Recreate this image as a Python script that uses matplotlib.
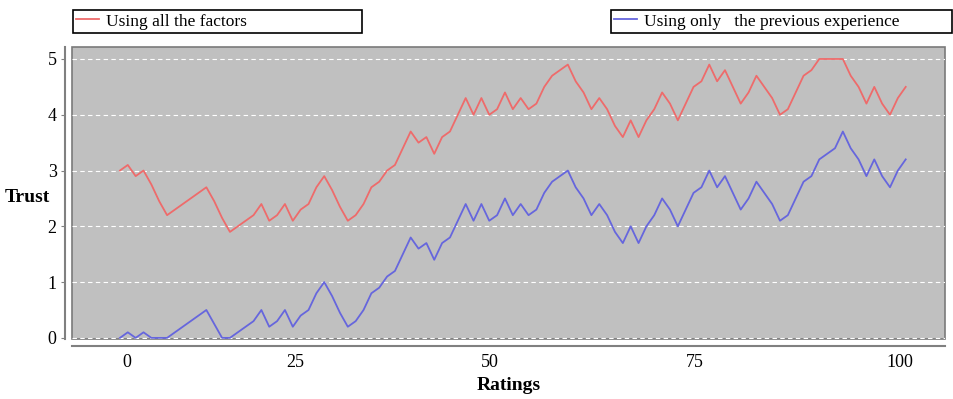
import matplotlib.pyplot as plt
from matplotlib.lines import Line2D
import numpy as np

plt.rcParams.update({'font.family': 'Liberation Serif', 'font.size': 12})

# ratings index 0..100
ratings = np.arange(101)

# trust using all the factors (red)
trust_all = [
    3.0, 3.1, 2.9, 3.0, 2.75, 2.45, 2.2, 2.3, 2.4, 2.5,
    2.6, 2.7, 2.45, 2.15, 1.9, 2.0, 2.1, 2.2, 2.4, 2.1,
    2.2, 2.4, 2.1, 2.3, 2.4, 2.7, 2.9, 2.65, 2.35, 2.1,
    2.2, 2.4, 2.7, 2.8, 3.0, 3.1, 3.4, 3.7, 3.5, 3.6,
    3.3, 3.6, 3.7, 4.0, 4.3, 4.0, 4.3, 4.0, 4.1, 4.4,
    4.1, 4.3, 4.1, 4.2, 4.5, 4.7, 4.8, 4.9, 4.6, 4.4,
    4.1, 4.3, 4.1, 3.8, 3.6, 3.9, 3.6, 3.9, 4.1, 4.4,
    4.2, 3.9, 4.2, 4.5, 4.6, 4.9, 4.6, 4.8, 4.5, 4.2,
    4.4, 4.7, 4.5, 4.3, 4.0, 4.1, 4.4, 4.7, 4.8, 5.0,
    5.0, 5.0, 5.0, 4.7, 4.5, 4.2, 4.5, 4.2, 4.0, 4.3,
    4.5,
]

# trust using only the previous experience (blue)
trust_prev = [
    0.0, 0.1, 0.0, 0.1, 0.0, 0.0, 0.0, 0.1, 0.2, 0.3,
    0.4, 0.5, 0.25, 0.0, 0.0, 0.1, 0.2, 0.3, 0.5, 0.2,
    0.3, 0.5, 0.2, 0.4, 0.5, 0.8, 1.0, 0.75, 0.45, 0.2,
    0.3, 0.5, 0.8, 0.9, 1.1, 1.2, 1.5, 1.8, 1.6, 1.7,
    1.4, 1.7, 1.8, 2.1, 2.4, 2.1, 2.4, 2.1, 2.2, 2.5,
    2.2, 2.4, 2.2, 2.3, 2.6, 2.8, 2.9, 3.0, 2.7, 2.5,
    2.2, 2.4, 2.2, 1.9, 1.7, 2.0, 1.7, 2.0, 2.2, 2.5,
    2.3, 2.0, 2.3, 2.6, 2.7, 3.0, 2.7, 2.9, 2.6, 2.3,
    2.5, 2.8, 2.6, 2.4, 2.1, 2.2, 2.5, 2.8, 2.9, 3.2,
    3.3, 3.4, 3.7, 3.4, 3.2, 2.9, 3.2, 2.9, 2.7, 3.0,
    3.2,
]

xtick_labels = ['0', '25', '50', '75', '100']
ytick_labels = ['0', '1', '2', '3', '4', '5']

RED = '#ee6b6b'
BLUE = '#6666dd'

fig = plt.figure(figsize=(9.54, 3.99), dpi=100)
ax = fig.add_axes([72 / 954, 1 - 339 / 399, (945 - 72) / 954, (339 - 47) / 399])

ax.set_facecolor('#c0c0c0')
ax.patch.set_edgecolor('#7a7a7a')
ax.patch.set_linewidth(1.2)

ax.plot(ratings, trust_all, color=RED, linewidth=1.3)
ax.plot(ratings, trust_prev, color=BLUE, linewidth=1.3)

ax.set_xlim(-6.1, 105)
ax.set_ylim(-0.02, 5.215)

# tick labels sit where the original picture puts them
ax.set_xticks([0.9, 22.3, 47.1, 73.2, 99.2])
ax.set_xticklabels(xtick_labels)
ax.set_yticks(range(6))
ax.set_yticklabels(ytick_labels)
ax.tick_params(axis='x', length=0, pad=6, labelsize=13)
ax.tick_params(axis='y', length=3, pad=3, labelsize=13, color='#808080')

ax.yaxis.grid(True, color='white', linestyle=(0, (4, 3)), linewidth=0.8)
ax.xaxis.grid(False)
ax.set_axisbelow(True)

for side in ['top', 'right']:
    ax.spines[side].set_visible(False)
for side in ['left', 'bottom']:
    ax.spines[side].set_position(('outward', 5))
    ax.spines[side].set_color('#808080')
    ax.spines[side].set_linewidth(1.5)

ax.set_xlabel('Ratings', fontweight='bold', fontsize=14, labelpad=4)
ax.set_ylabel('Trust', fontweight='bold', fontsize=14, rotation=0, ha='center', va='center')
ax.yaxis.set_label_coords(-0.051, 0.483)

# two separate legend boxes above the plot
h_red = Line2D([], [], color=RED, linewidth=1.3)
h_blue = Line2D([], [], color=BLUE, linewidth=1.3)
legend_kw = dict(loc='lower left', mode='expand', fancybox=False, framealpha=1,
                 edgecolor='black', fontsize=12.5, handlelength=1.3, handletextpad=0.4,
                 borderpad=0.2, borderaxespad=0)
leg1 = fig.legend([h_red], ['Using all the factors'],
                  bbox_to_anchor=(73 / 954, 1 - 33 / 399, (362 - 73) / 954, 28 / 399), **legend_kw)
leg1.get_frame().set_linewidth(1.2)
leg2 = fig.legend([h_blue], ['Using only   the previous experience'],
                  bbox_to_anchor=(611 / 954, 1 - 33 / 399, (952 - 611) / 954, 28 / 399), **legend_kw)
leg2.get_frame().set_linewidth(1.2)

fig.savefig('out.png', dpi=100)
